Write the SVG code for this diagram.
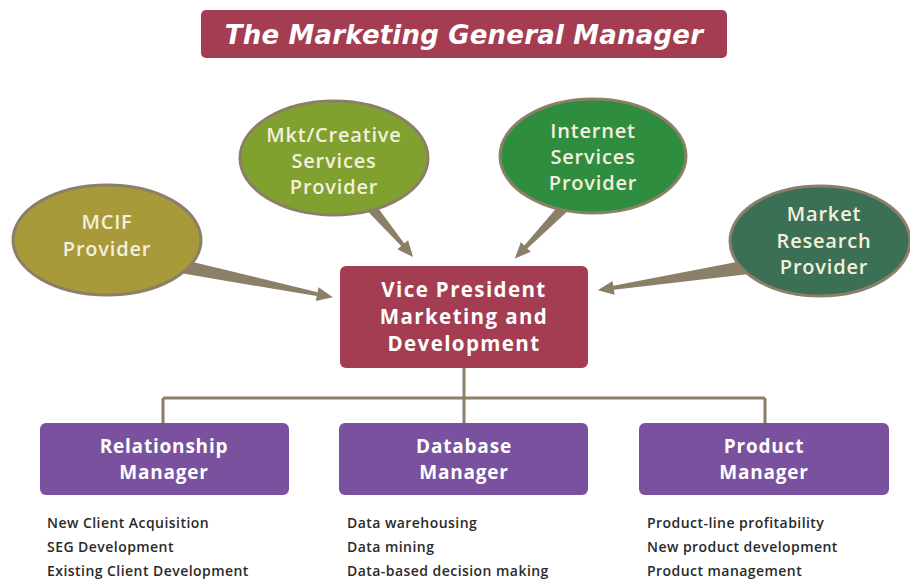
<svg xmlns="http://www.w3.org/2000/svg" width="910" height="581" viewBox="0 0 910 581">
  <style>
    .title { font-family: "DejaVu Sans", "Open Sans", sans-serif; font-weight: bold; font-style: italic; font-size: 26px; letter-spacing: 0.2px; fill: #ffffff; text-anchor: middle; }
    .bubble-label { font-family: "Open Sans", "Noto Sans", sans-serif; font-weight: 600; font-size: 20px; letter-spacing: 0.8px; fill: #f4f0dc; text-anchor: middle; }
    .box-label { font-family: "Open Sans", "Noto Sans", sans-serif; font-weight: bold; font-size: 19px; letter-spacing: 0.8px; fill: #ffffff; text-anchor: middle; }
    .vp-label { font-family: "Open Sans", "Noto Sans", sans-serif; font-weight: bold; font-size: 20.5px; letter-spacing: 1.4px; fill: #ffffff; text-anchor: middle; }
    .duty { font-family: "Open Sans", "Noto Sans", sans-serif; font-weight: 600; font-size: 14px; letter-spacing: 0.45px; fill: #2a2a2a; }
    .bubble { stroke: #8c7f68; stroke-width: 3; }
    .wedge { fill: #8c7f68; }
    .tree { stroke: #8c7f68; stroke-width: 3; fill: none; }
    .maroon { fill: #a53d52; }
    .purple { fill: #7a519e; }
  </style>

  <rect width="910" height="581" fill="#ffffff"/>

  <!-- header -->
  <g id="title">
    <rect x="201" y="10" width="526" height="48" rx="5" class="maroon"/>
    <text x="464" y="44" class="title">The Marketing General Manager</text>
  </g>

  <!-- connectors: tapered pointers from providers, org-chart lines to managers -->
  <g id="connectors">
    <path class="wedge" transform="translate(180,266) rotate(11.6)" d="M0,-7 L140,-2 L140,-7 L156,0 L140,7 L140,2 L0,7 Z"/>
    <path class="wedge" transform="translate(364,199) rotate(49.8)" d="M0,-6 L60,-2 L60,-7 L76,0 L60,7 L60,2 L0,6 Z"/>
    <path class="wedge" transform="translate(573,198) rotate(133.9)" d="M0,-6 L68,-2 L68,-7 L84,0 L68,7 L68,2 L0,6 Z"/>
    <path class="wedge" transform="translate(748,267) rotate(171.2)" d="M0,-7 L136,-2 L136,-7 L152,0 L136,7 L136,2 L0,7 Z"/>
    <path class="tree" d="M464,368 V398 M163,398 H765 M163,398 V423 M464,398 V423 M765,398 V423"/>
  </g>

  <!-- service providers -->
  <g id="mcif">
    <ellipse cx="107" cy="240" rx="94" ry="55" class="bubble" fill="#a8993b"/>
    <text x="107" y="229" class="bubble-label">MCIF</text>
    <text x="107" y="256" class="bubble-label">Provider</text>
  </g>
  <g id="creative">
    <ellipse cx="334" cy="158" rx="94" ry="57" class="bubble" fill="#80a02f"/>
    <text x="334" y="142" class="bubble-label">Mkt/Creative</text>
    <text x="334" y="168" class="bubble-label">Services</text>
    <text x="334" y="194" class="bubble-label">Provider</text>
  </g>
  <g id="internet">
    <ellipse cx="593" cy="156" rx="93" ry="57" class="bubble" fill="#2f8d40"/>
    <text x="593" y="138" class="bubble-label">Internet</text>
    <text x="593" y="164" class="bubble-label">Services</text>
    <text x="593" y="190" class="bubble-label">Provider</text>
  </g>
  <g id="research">
    <ellipse cx="820" cy="241" rx="90" ry="55" class="bubble" fill="#3b7057"/>
    <text x="824" y="221" class="bubble-label">Market</text>
    <text x="824" y="248" class="bubble-label">Research</text>
    <text x="824" y="274" class="bubble-label">Provider</text>
  </g>

  <!-- executive -->
  <g id="vp">
    <rect x="340" y="266" width="248" height="102" rx="6" class="maroon"/>
    <text x="464" y="297" class="vp-label">Vice President</text>
    <text x="464" y="324" class="vp-label">Marketing and</text>
    <text x="464" y="351" class="vp-label">Development</text>
  </g>

  <!-- managers -->
  <g id="relationship">
    <rect x="40" y="423" width="249" height="72" rx="6" class="purple"/>
    <text x="164" y="453" class="box-label">Relationship</text>
    <text x="164" y="479" class="box-label">Manager</text>
    <text x="47" y="528" class="duty">New Client Acquisition</text>
    <text x="47" y="552" class="duty">SEG Development</text>
    <text x="47" y="576" class="duty">Existing Client Development</text>
  </g>
  <g id="database">
    <rect x="339" y="423" width="249" height="72" rx="6" class="purple"/>
    <text x="464" y="453" class="box-label">Database</text>
    <text x="464" y="479" class="box-label">Manager</text>
    <text x="347" y="528" class="duty">Data warehousing</text>
    <text x="347" y="552" class="duty">Data mining</text>
    <text x="347" y="576" class="duty">Data-based decision making</text>
  </g>
  <g id="product">
    <rect x="639" y="423" width="250" height="72" rx="6" class="purple"/>
    <text x="764" y="453" class="box-label">Product</text>
    <text x="764" y="479" class="box-label">Manager</text>
    <text x="647" y="528" class="duty">Product-line profitability</text>
    <text x="647" y="552" class="duty">New product development</text>
    <text x="647" y="576" class="duty">Product management</text>
  </g>
</svg>
